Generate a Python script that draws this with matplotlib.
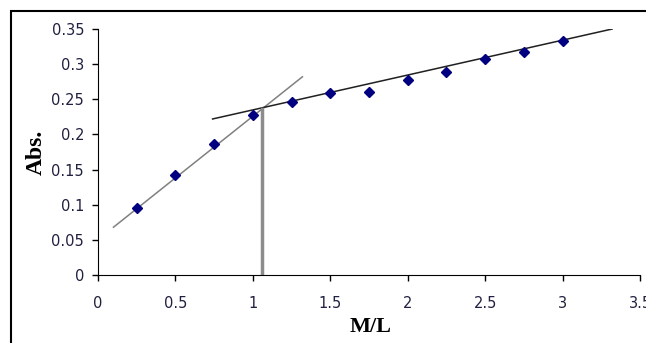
import matplotlib.pyplot as plt
from matplotlib.patches import Rectangle

# mole ratio data
ratio = [0.25, 0.5, 0.75, 1.0, 1.25, 1.5, 1.75, 2.0, 2.25, 2.5, 2.75, 3.0]
absorb = [0.095, 0.142, 0.187, 0.227, 0.246, 0.259, 0.261, 0.278, 0.289, 0.308, 0.317, 0.333]

# tangent lines (end points)
steep_x = [0.10, 1.32]
steep_y = [0.068, 0.282]
flat_x = [0.74, 3.32]
flat_y = [0.222, 0.350]
cross_x = [1.06, 1.06]
cross_y = [0.0, 0.236]

xticks = [0, 0.5, 1, 1.5, 2, 2.5, 3, 3.5]
xtick_labels = ['0', '0.5', '1', '1.5', '2', '2.5', '3', '3.5']
yticks = [0, 0.05, 0.1, 0.15, 0.2, 0.25, 0.3, 0.35]
ytick_labels = ['0', '0.05', '0.1', '0.15', '0.2', '0.25', '0.3', '0.35']

W, H = 646, 343
fig = plt.figure(figsize=(W / 100, H / 100), dpi=100)
ax = fig.add_axes([98 / W, 1 - 275 / H, (640 - 98) / W, (275 - 29) / H])

# outer chart frame, cut off at the right and bottom
fig.patches.append(Rectangle((11 / W, -0.1), 1.2, 1 - 11 / H + 0.1,
                             transform=fig.transFigure, fill=False,
                             edgecolor='black', linewidth=1.5))

ax.plot(steep_x, steep_y, color='#808080', linewidth=1.1)
ax.plot(flat_x, flat_y, color='#202020', linewidth=1.1)
ax.plot(cross_x, cross_y, color='#8c8c8c', linewidth=2.5)
ax.plot(ratio, absorb, linestyle='none', marker='D', markersize=5,
        color='#000080')

ax.set_xlim(0, 3.5)
ax.set_ylim(0, 0.35)
ax.set_xticks(xticks)
ax.set_xticklabels(xtick_labels)
ax.set_yticks(yticks)
ax.set_yticklabels(ytick_labels)
ax.spines['top'].set_visible(False)
ax.spines['right'].set_visible(False)
ax.tick_params(direction='out', length=4, width=1, labelsize=10.5, pad=6,
               labelcolor='#202040')
for lab in ax.get_xticklabels() + ax.get_yticklabels():
    lab.set_family('DejaVu Sans')
ax.tick_params(axis='x', pad=11)

fig.text(371 / W, 1 - 327 / H, 'M/L', family='Liberation Serif',
         fontweight='bold', fontsize=16, ha='center', va='center')
fig.text(36 / W, 1 - 152 / H, 'Abs.', family='Liberation Serif',
         fontweight='bold', fontsize=17, ha='center', va='center',
         rotation=90)

fig.savefig('out.png', dpi=100)
